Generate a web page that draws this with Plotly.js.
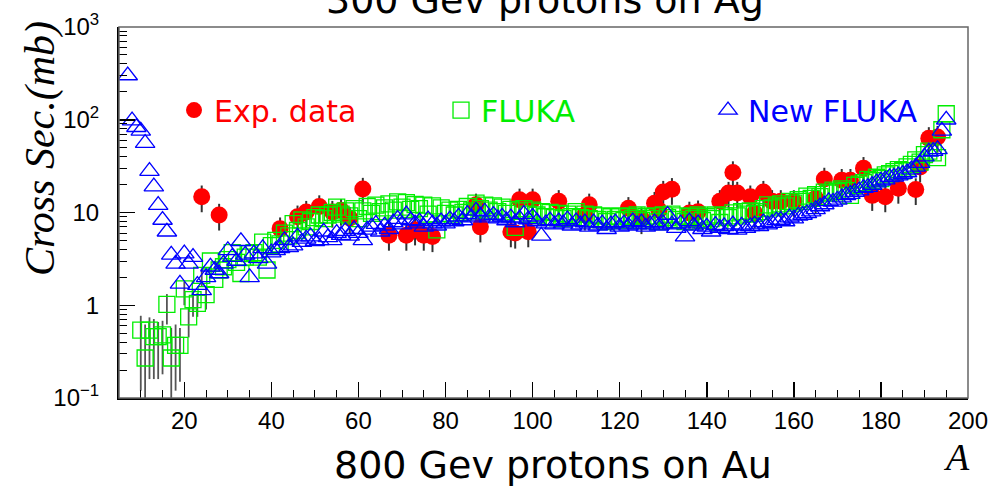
<!DOCTYPE html>
<html><head><meta charset="utf-8">
<script src="https://cdn.plot.ly/plotly-3.0.1.min.js"></script>
<style>html,body{margin:0;padding:0;background:#fff}</style>
</head><body><div id="chart" style="width:1005px;height:497px"></div>
<script>
// Mass number ranges (consecutive integers)
function massRange(a, b) { var r = []; for (var i = a; i <= b; i++) r.push(i); return r; }

// New FLUKA (blue triangles), A = 7..195
var newFlukaA = massRange(7, 195);
var newFlukaXS = [
  300, 98, 83, 76, 56, 28, 19, 12, 8.3, 6.2,
  3.5, 2.8, 1.7, 3.6, 2.8, 3.3, 1.65, 1.45, 2.0, 2.6,
  2.4, 2.2, 2.8, 3.9, 3.3, 3.0, 4.9, 3.5, 2.0, 3.6,
  3.2, 4.1, 2.8, 3.7, 3.9, 4.1, 5.0, 4.2, 4.4, 5.5,
  4.8, 5.2, 5.5, 4.9, 5.0, 6.2, 5.4, 5.0, 6.0, 5.7,
  6.3, 5.6, 6.6, 6.0, 5.0, 6.5, 7.0, 7.5, 6.2, 7.2,
  6.6, 7.8, 8.5, 7.4, 9.5, 8.2, 7.6, 8.0, 7.0, 8.4,
  7.6, 7.2, 8.0, 7.6, 8.4, 8.0, 9.0, 8.2, 9.6, 8.8,
  10.4, 9.2, 10.2, 8.8, 9.4, 8.6, 9.0, 8.2, 8.8, 7.8,
  8.6, 9.6, 8.4, 9.0, 8.0, 5.6, 7.6, 8.2, 7.4, 8.0,
  7.6, 8.4, 7.2, 8.0, 7.4, 7.8, 7.0, 7.8, 7.2, 7.6,
  6.6, 7.4, 7.8, 7.0, 7.6, 7.2, 8.0, 7.4, 7.8, 7.0,
  7.4, 7.8, 7.2, 7.6, 9.4, 7.4, 6.8, 7.6, 5.5, 8.0,
  7.2, 7.6, 6.6,
  7.0, 6.2, 7.3, 6.8, 7.1, 6.6, 7.4, 6.5, 7.2, 6.8,
  7.1, 7.4, 7.1, 7.8, 7.4, 7.7, 8.2, 8.3, 8.0, 8.8,
  8.6, 9.2, 9.4, 9.8, 10.2, 10.8, 11.6, 12.2, 13.2, 13.0,
  13.7, 14.5, 15.3, 15.8, 16.6, 17.2, 18.3, 18.8, 19.8, 21.0,
  22.0, 22.6, 24.0, 24.2, 25.0, 26.0, 27.0, 29.0, 31.0, 34.0,
  40.0, 45.0, 46.0, 48.0, 76.0, 100.0
];

// FLUKA (green squares), A = 10..195
var flukaA = massRange(10, 195);
var flukaXS = [
  0.54, 0.27, 0.54, 0.46, 0.46, 0.48, 1.02, 0.27, 0.37, 0.37,
  1.5, 0.75, 1.15, 1.05, 2.1, 1.3, 3.0, 1.9, 2.4, 2.6,
  3.1, 3.7, 2.9, 2.2, 3.3, 3.6, 3.7, 3.3, 4.8, 2.4,
  4.4, 5.0, 4.6, 6.0, 5.6, 7.6, 6.4, 8.3, 7.0, 8.0,
  8.8, 9.4, 8.6, 9.4, 10.0, 11.4, 9.6, 10.4, 9.2, 11.0,
  8.6, 10.4, 11.6, 9.8, 12.0, 10.2, 11.2, 12.4, 10.6, 13.0,
  11.4, 12.8, 10.8, 12.2, 11.0, 12.0, 9.6, 11.8, 6.5, 11.2,
  9.8, 10.6, 9.4, 10.8, 10.0, 11.6, 10.4, 12.6, 11.0, 12.0,
  10.6, 11.8, 10.2, 11.4, 9.8, 10.8, 6.9, 10.4, 11.0, 9.6,
  10.6, 9.4, 10.2, 9.0, 10.0, 8.8, 9.8, 8.6, 9.6, 9.0,
  10.2, 8.8, 9.6, 8.6, 9.4, 8.4, 9.2, 8.0, 9.0, 8.4,
  9.2, 8.2, 9.0, 8.6, 9.4, 8.2, 9.0, 8.6, 9.2, 8.0,
  9.4, 8.8, 9.6, 8.4, 9.2, 8.0, 9.0, 8.6, 9.4, 8.2,
  9.0, 8.6, 9.4, 7.8, 9.2, 8.8, 9.9, 9.2, 10.2, 9.6,
  10.4, 9.8, 10.2, 11.0, 12.1, 11.2, 11.7, 12.4, 11.8, 13.2,
  12.6, 13.8, 13.2, 15.0, 14.2, 15.6, 14.8, 16.6, 16.2, 17.4,
  16.8, 18.0, 17.2, 15.3, 19.6, 20.2, 21.0, 22.8, 22.0, 24.0,
  23.2, 25.4, 26.2, 27.6, 29.0, 28.2, 31.0, 33.0, 37.0, 35.0,
  42.0, 46.0, 44.0, 39.0, 78.0, 116.0
];
// FLUKA statistical errors (only visible for light fragments, A = 10..25)
var flukaErrPlusLow  = [0.23, 0.35, 0.20, 0.25, 0.20, 0.20, 0.30, 0.30, 0.25, 0.20, 0.30, 0.20, 0.30, 0.30, 0.40, 0.30];
var flukaErrMinusLow = [0.42, 0.17, 0.38, 0.30, 0.30, 0.30, 0.40, 0.17, 0.25, 0.22, 0.50, 0.30, 0.40, 0.30, 0.50, 0.40];

// Experimental data (red circles)
var expA  = [24, 28, 42, 46, 48, 51, 54, 56, 58, 61, 67, 71, 73, 75, 77, 87, 88, 95, 96, 97, 99, 100, 106, 112, 113,
             122, 125, 128, 129, 130, 132, 136, 138, 143, 145, 146, 147, 150, 151, 153, 155, 157, 160, 165, 167,
             171, 173, 176, 178, 181, 184, 188, 189, 191, 193];
var expXS = [14.8, 9.4, 6.7, 9.0, 10.1, 11.6, 10.1, 10.6, 8.7, 17.9, 5.7, 5.7, 6.5, 5.7, 5.5, 12.1, 7.0, 6.2, 6.0, 13.7, 6.2, 13.7, 13.2, 9.4, 12.1,
             11.1, 8.6, 12.6, 10.6, 16.6, 17.8, 9.9, 10.2, 13.2, 16.2, 27, 16.2, 14.8, 9.9, 16.6, 13.2, 13.2, 13.2, 14.2, 23,
             22.3, 22.3, 30, 15.3, 14.8, 18.3, 17.7, 31, 63, 65];

var yTickVals = [0.1, 1, 10, 100, 1000];
var yTickText = ['10<sup>\u22121</sup>', '1', '10', '10<sup>2</sup>', '10<sup>3</sup>'];
var yMinorVals = [0.2,0.3,0.4,0.5,0.6,0.7,0.8,0.9, 2,3,4,5,6,7,8,9, 20,30,40,50,60,70,80,90, 200,300,400,500,600,700,800,900];

var flukaErrPlus = flukaErrPlusLow.concat(new Array(flukaA.length - flukaErrPlusLow.length).fill(0));
var flukaErrMinus = flukaErrMinusLow.concat(new Array(flukaA.length - flukaErrMinusLow.length).fill(0));

var traces = [
  {
    x: expA, y: expXS, type: 'scatter', mode: 'markers',
    name: '<span style="color:#ff0000">Exp. data</span>',
    marker: {symbol: 'circle', size: 17, color: '#ff0000', line: {width: 0}},
    error_y: {type: 'percent', value: 32, color: '#333333', thickness: 2, width: 0}
  },
  {
    x: flukaA, y: flukaXS, type: 'scatter', mode: 'markers',
    name: '<span style="color:#00ee00">FLUKA</span>',
    marker: {symbol: 'square-open', size: 16, color: '#00ee00', line: {width: 1.3}},
    error_y: {type: 'data', array: flukaErrPlus, arrayminus: flukaErrMinus, symmetric: false, color: '#555555', thickness: 1.8, width: 0}
  },
  {
    x: newFlukaA, y: newFlukaXS, type: 'scatter', mode: 'markers',
    name: '<span style="color:#0000ff">New FLUKA</span>',
    marker: {symbol: 'triangle-up-open', size: 17, color: '#0000ff', line: {width: 1.3}}
  }
];

var layout = {
  width: 1005, height: 497,
  margin: {l: 119, r: 37, t: 27, b: 99},
  paper_bgcolor: '#ffffff', plot_bgcolor: '#ffffff',
  showlegend: true,
  legend: {
    orientation: 'h', x: 0.0648, y: 0.776, xanchor: 'left', yanchor: 'middle',
    bgcolor: 'rgba(0,0,0,0)', font: {family: 'DejaVu Sans', size: 30, color: '#000'},
    entrywidth: 222, entrywidthmode: 'pixels', itemclick: false
  },
  xaxis: {
    range: [5, 200], dtick: 20, tick0: 0,
    ticks: 'inside', ticklen: 16, tickwidth: 1.5, tickcolor: '#000',
    showline: true, linewidth: 2, linecolor: '#000',
    showgrid: false, zeroline: false,
    tickfont: {family: 'Liberation Sans', size: 24, color: '#000'},
    ticklabelstandoff: 0,
    minor: {dtick: 5, tick0: 0, ticks: 'inside', ticklen: 8, tickwidth: 1, tickcolor: '#000', showgrid: false}
  },
  yaxis: {
    type: 'log', range: [-1, 3],
    tickmode: 'array', tickvals: yTickVals, ticktext: yTickText,
    ticks: 'inside', ticklen: 16, tickwidth: 1.5, tickcolor: '#000',
    showline: true, linewidth: 2, linecolor: '#000',
    showgrid: false, zeroline: false,
    tickfont: {family: 'Liberation Sans', size: 24, color: '#000'},
    ticklabelstandoff: 13,
    minor: {tickmode: 'array', tickvals: yMinorVals, ticks: 'inside', ticklen: 8, tickwidth: 1, tickcolor: '#000', showgrid: false}
  },
  shapes: [
    {type: 'rect', xref: 'paper', yref: 'paper', x0: 0, x1: 1, y0: 0, y1: 1, line: {color: '#666', width: 1.5}, fillcolor: 'rgba(0,0,0,0)', layer: 'above'}
  ],
  annotations: [
    {text: '300 Gev protons on Ag', xref: 'paper', yref: 'paper', x: 0.502, y: 1.0728, xanchor: 'center', yanchor: 'middle',
     showarrow: false, font: {family: 'DejaVu Sans', size: 38, color: '#000'}},
    {text: '800 Gev protons on Au', xref: 'paper', yref: 'paper', x: 0.511, y: -0.1806, xanchor: 'center', yanchor: 'middle',
     showarrow: false, font: {family: 'DejaVu Sans', size: 38, color: '#000'}},
    {text: '<i>A</i>', xref: 'paper', yref: 'paper', x: 0.986, y: -0.159, xanchor: 'center', yanchor: 'middle',
     showarrow: false, font: {family: 'Liberation Serif', size: 38, color: '#000'}},
    {text: '<i>Cross Sec.(mb)</i>', xref: 'paper', yref: 'paper', x: -0.093, y: 0.671, xanchor: 'center', yanchor: 'middle',
     textangle: -90, showarrow: false, font: {family: 'Liberation Serif', size: 42, color: '#000'}}
  ]
};

Plotly.newPlot('chart', traces, layout, {displayModeBar: false, staticPlot: true});
</script></body></html>
